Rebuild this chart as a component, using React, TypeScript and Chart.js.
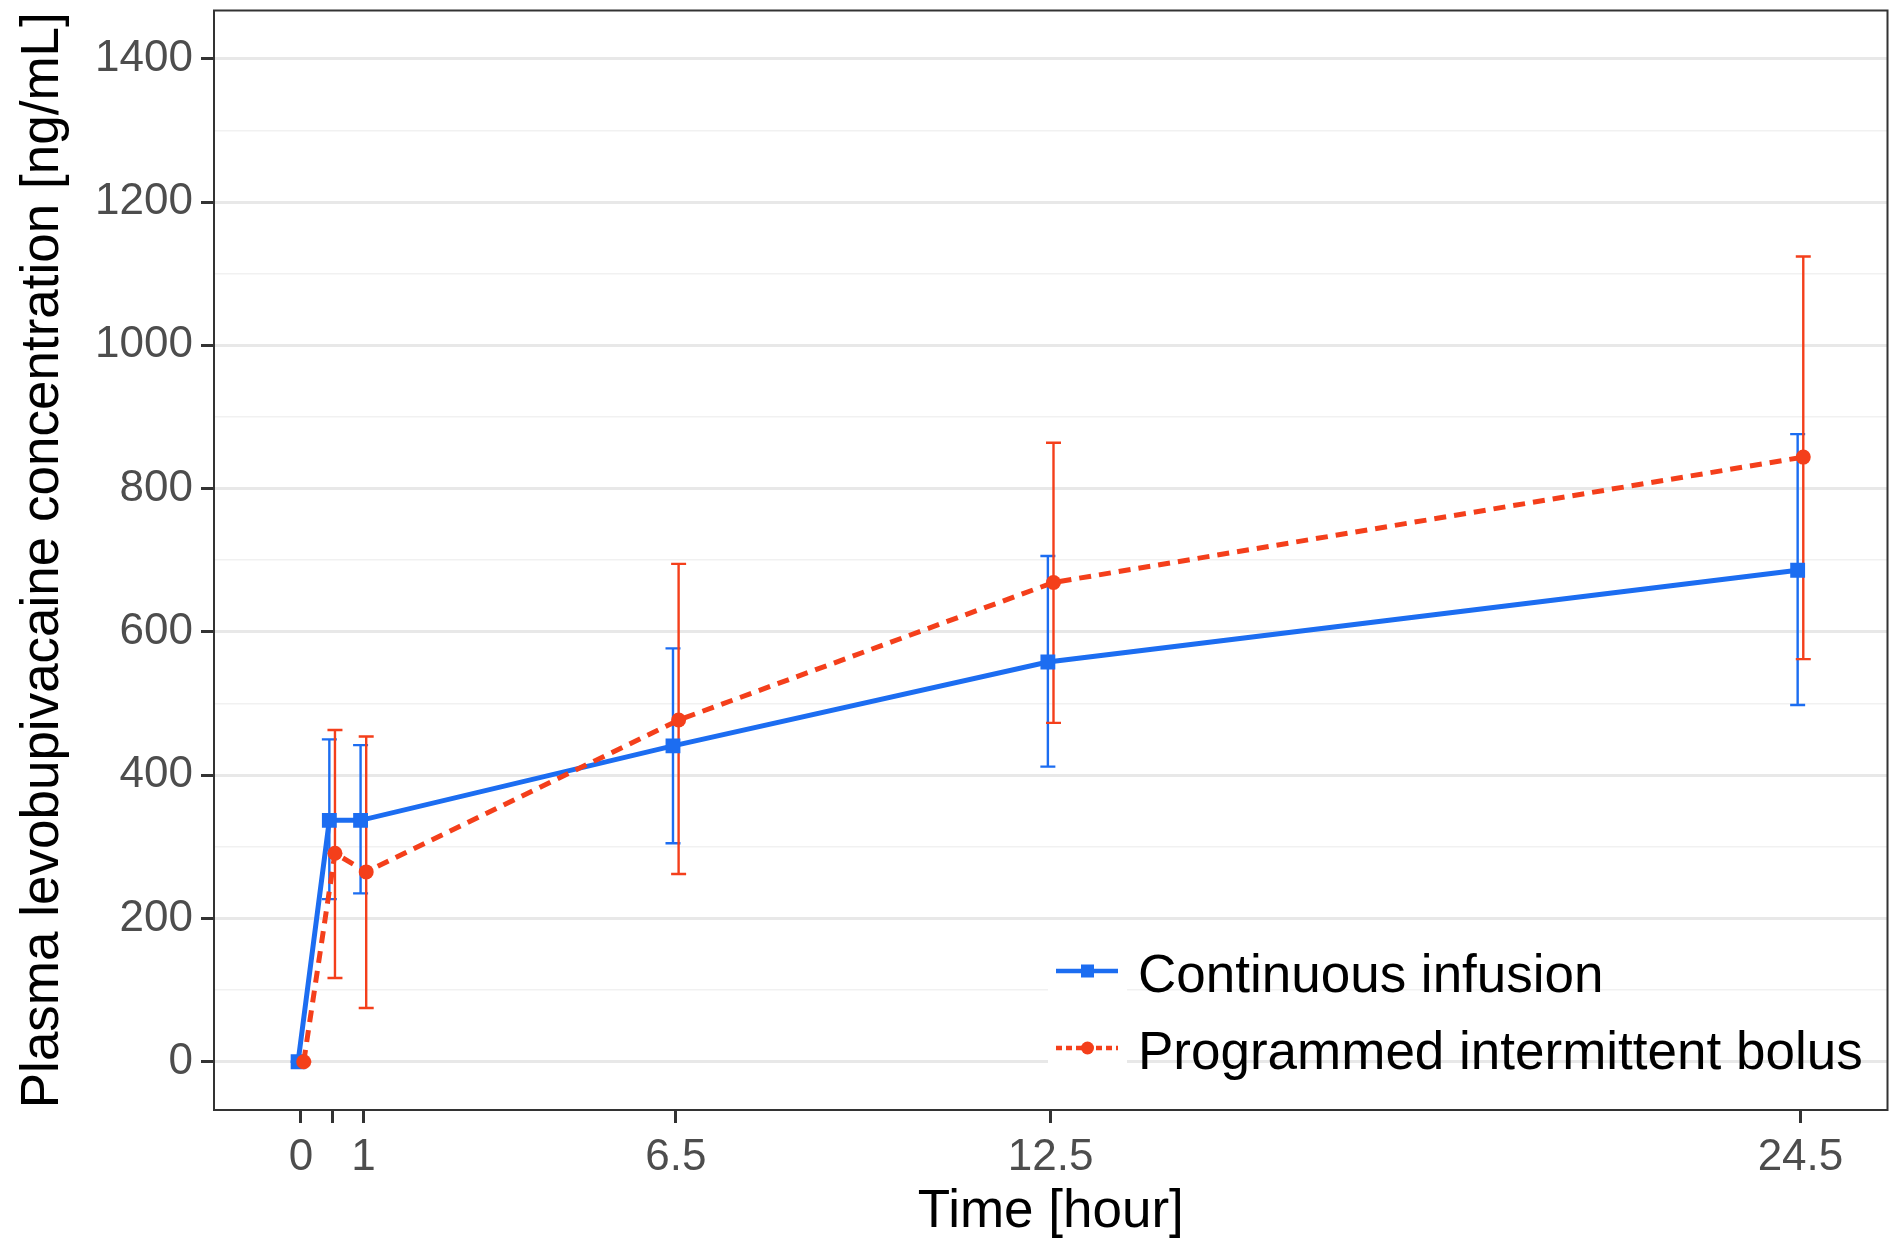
import React, { useEffect, useRef } from 'react';
import { Chart, registerables } from 'chart.js';

Chart.register(...registerables);

// ---- data ----
const timePoints = [0, 0.5, 1, 6, 12, 24];
const timeTickLabels = ['0', '', '1', '6.5', '12.5', '24.5'];
const yTickValues = [0, 100, 200, 300, 400, 500, 600, 700, 800, 900, 1000, 1100, 1200, 1300, 1400];
const seriesNames = ['Continuous infusion', 'Programmed intermittent bolus'];

const ciMean = [0, 337, 337, 441, 558, 686];
const ciLower = [0, 227, 235, 305, 412, 498];
const ciUpper = [0, 450, 442, 577, 706, 876];

const pibMean = [0, 291, 265, 477, 669, 844];
const pibLower = [0, 117, 75, 262, 473, 562];
const pibUpper = [0, 463, 454, 695, 864, 1124];

const xTitle = 'Time [hour]';
const yTitle = 'Plasma levobupivacaine concentration [ng/mL]';

// ---- styles ----
const BLUE = '#1C6DF1';
const RED = '#F43F1B';
const DODGE = 0.045;
const CAP = 0.12;
const FONT = "'Liberation Sans', Arial, Helvetica, sans-serif";

const errorBarPlugin = {
  id: 'errorBars',
  beforeDatasetsDraw(chart: any) {
    const { ctx } = chart;
    const x = chart.scales.x;
    const y = chart.scales.y;
    const groups = [
      { color: BLUE, offset: -DODGE, lo: ciLower, hi: ciUpper },
      { color: RED, offset: DODGE, lo: pibLower, hi: pibUpper },
    ];
    ctx.save();
    ctx.lineWidth = 2.4;
    for (const g of groups) {
      ctx.strokeStyle = g.color;
      timePoints.forEach((t, i) => {
        const px = x.getPixelForValue(t + g.offset);
        const pl = x.getPixelForValue(t + g.offset - CAP);
        const pr = x.getPixelForValue(t + g.offset + CAP);
        const y1 = y.getPixelForValue(g.lo[i]);
        const y2 = y.getPixelForValue(g.hi[i]);
        ctx.beginPath();
        ctx.moveTo(px, y1);
        ctx.lineTo(px, y2);
        ctx.moveTo(pl, y1);
        ctx.lineTo(pr, y1);
        ctx.moveTo(pl, y2);
        ctx.lineTo(pr, y2);
        ctx.stroke();
      });
    }
    ctx.restore();
  },
};

const panelPlugin = {
  id: 'panelBorderLegend',
  afterDraw(chart: any) {
    const { ctx, chartArea } = chart;
    ctx.save();
    // panel border
    ctx.strokeStyle = '#333333';
    ctx.lineWidth = 2;
    ctx.strokeRect(chartArea.left, chartArea.top, chartArea.right - chartArea.left, chartArea.bottom - chartArea.top);

    // legend (inside panel, bottom right)
    const rows = [
      { name: seriesNames[0], color: BLUE, dash: [] as number[], shape: 'rect' },
      { name: seriesNames[1], color: RED, dash: [6, 4], shape: 'circle' },
    ];
    const keyLeft = 1048;
    const keyW = 79;
    const rowH = 77;
    const firstRowY = 971;
    rows.forEach((r, i) => {
      const cy = firstRowY + i * rowH;
      ctx.fillStyle = '#FFFFFF';
      ctx.fillRect(keyLeft, cy - rowH / 2, keyW, rowH);
      ctx.strokeStyle = r.color;
      ctx.lineWidth = 4.5;
      ctx.setLineDash(r.dash);
      ctx.beginPath();
      ctx.moveTo(keyLeft + 8, cy);
      ctx.lineTo(keyLeft + keyW - 9, cy);
      ctx.stroke();
      ctx.setLineDash([]);
      ctx.fillStyle = r.color;
      const mx = keyLeft + keyW / 2;
      if (r.shape === 'rect') {
        ctx.fillRect(mx - 6.5, cy - 6.5, 13, 13);
      } else {
        ctx.beginPath();
        ctx.arc(mx, cy, 6.5, 0, Math.PI * 2);
        ctx.fill();
      }
      ctx.fillStyle = '#000000';
      ctx.font = `53px ${FONT}`;
      ctx.textAlign = 'left';
      ctx.textBaseline = 'alphabetic';
      ctx.fillText(r.name, 1138, cy + 21);
    });
    ctx.restore();
  },
};

export default function App() {
  const canvasRef = useRef<HTMLCanvasElement | null>(null);

  useEffect(() => {
    document.body.style.margin = '0';
    const canvas = canvasRef.current;
    if (!canvas) return;

    const chart = new Chart(canvas, {
      type: 'line',
      data: {
        datasets: [
          {
            label: seriesNames[0],
            data: timePoints.map((t, i) => ({ x: t - DODGE, y: ciMean[i] })),
            borderColor: BLUE,
            backgroundColor: BLUE,
            borderWidth: 5,
            pointStyle: 'rect',
            pointRadius: 10.5,
            pointBorderWidth: 0,
            pointBackgroundColor: BLUE,
            tension: 0,
            order: 2,
          },
          {
            label: seriesNames[1],
            data: timePoints.map((t, i) => ({ x: t + DODGE, y: pibMean[i] })),
            borderColor: RED,
            backgroundColor: RED,
            borderWidth: 5,
            borderDash: [12, 8],
            pointStyle: 'circle',
            pointRadius: 7.5,
            pointBorderWidth: 0,
            pointBackgroundColor: RED,
            tension: 0,
            order: 1,
          },
        ],
      },
      options: {
        animation: false,
        responsive: false,
        devicePixelRatio: 1,
        layout: { padding: { top: 8, right: 7, left: 0, bottom: 0 } },
        plugins: {
          legend: { display: false },
          tooltip: { enabled: false },
        },
        scales: {
          x: {
            type: 'linear',
            min: -1.391,
            max: 25.393,
            afterBuildTicks: (scale: any) => {
              scale.ticks = timePoints.map((v) => ({ value: v }));
            },
            afterFit: (scale: any) => {
              scale.height = 134;
              scale.paddingLeft = 0;
              scale.paddingRight = 0;
            },
            ticks: {
              autoSkip: false,
              maxRotation: 0,
              minRotation: 0,
              padding: 8,
              color: '#4D4D4D',
              font: { family: FONT, size: 44 },
              callback: (value: any) => {
                const idx = timePoints.indexOf(Number(value));
                return idx >= 0 ? timeTickLabels[idx] : '';
              },
            },
            grid: {
              display: true,
              drawOnChartArea: false,
              drawTicks: true,
              tickLength: 13,
              tickColor: '#333333',
              tickWidth: 3,
            },
            border: { display: false },
            title: {
              display: true,
              text: xTitle,
              color: '#000000',
              font: { family: FONT, size: 53 },
              padding: { top: 0, bottom: 0 },
            },
          },
          y: {
            type: 'linear',
            min: -67.3,
            max: 1467.3,
            afterBuildTicks: (scale: any) => {
              scale.ticks = yTickValues.map((v) => ({ value: v }));
            },
            afterFit: (scale: any) => {
              scale.width = 214;
              scale.paddingTop = 0;
              scale.paddingBottom = 0;
            },
            ticks: {
              autoSkip: false,
              padding: 8,
              color: '#4D4D4D',
              font: { family: FONT, size: 44 },
              callback: (value: any) => (Number(value) % 200 === 0 ? String(value) : ''),
            },
            grid: {
              display: true,
              drawOnChartArea: true,
              drawTicks: true,
              tickLength: 13,
              color: (ctx: any) => (ctx.tick && ctx.tick.value % 200 === 0 ? '#E8E8E8' : '#F1F1F1'),
              lineWidth: (ctx: any) => (ctx.tick && ctx.tick.value % 200 === 0 ? 3 : 1.6),
              tickColor: (ctx: any) => (ctx.tick && ctx.tick.value % 200 === 0 ? '#333333' : 'rgba(0,0,0,0)'),
              tickWidth: 3,
            },
            border: { display: false },
            title: {
              display: true,
              text: yTitle,
              color: '#000000',
              font: { family: FONT, size: 53 },
              padding: { top: 12, bottom: 0 },
            },
          },
        },
      },
      plugins: [errorBarPlugin, panelPlugin],
    } as any);

    return () => {
      chart.destroy();
    };
  }, []);

  return (
    <div style={{ position: 'absolute', left: 0, top: 0, width: 1898, height: 1244, background: '#FFFFFF' }}>
      <canvas ref={canvasRef} width={1898} height={1244} style={{ display: 'block', width: 1898, height: 1244 }} />
    </div>
  );
}
